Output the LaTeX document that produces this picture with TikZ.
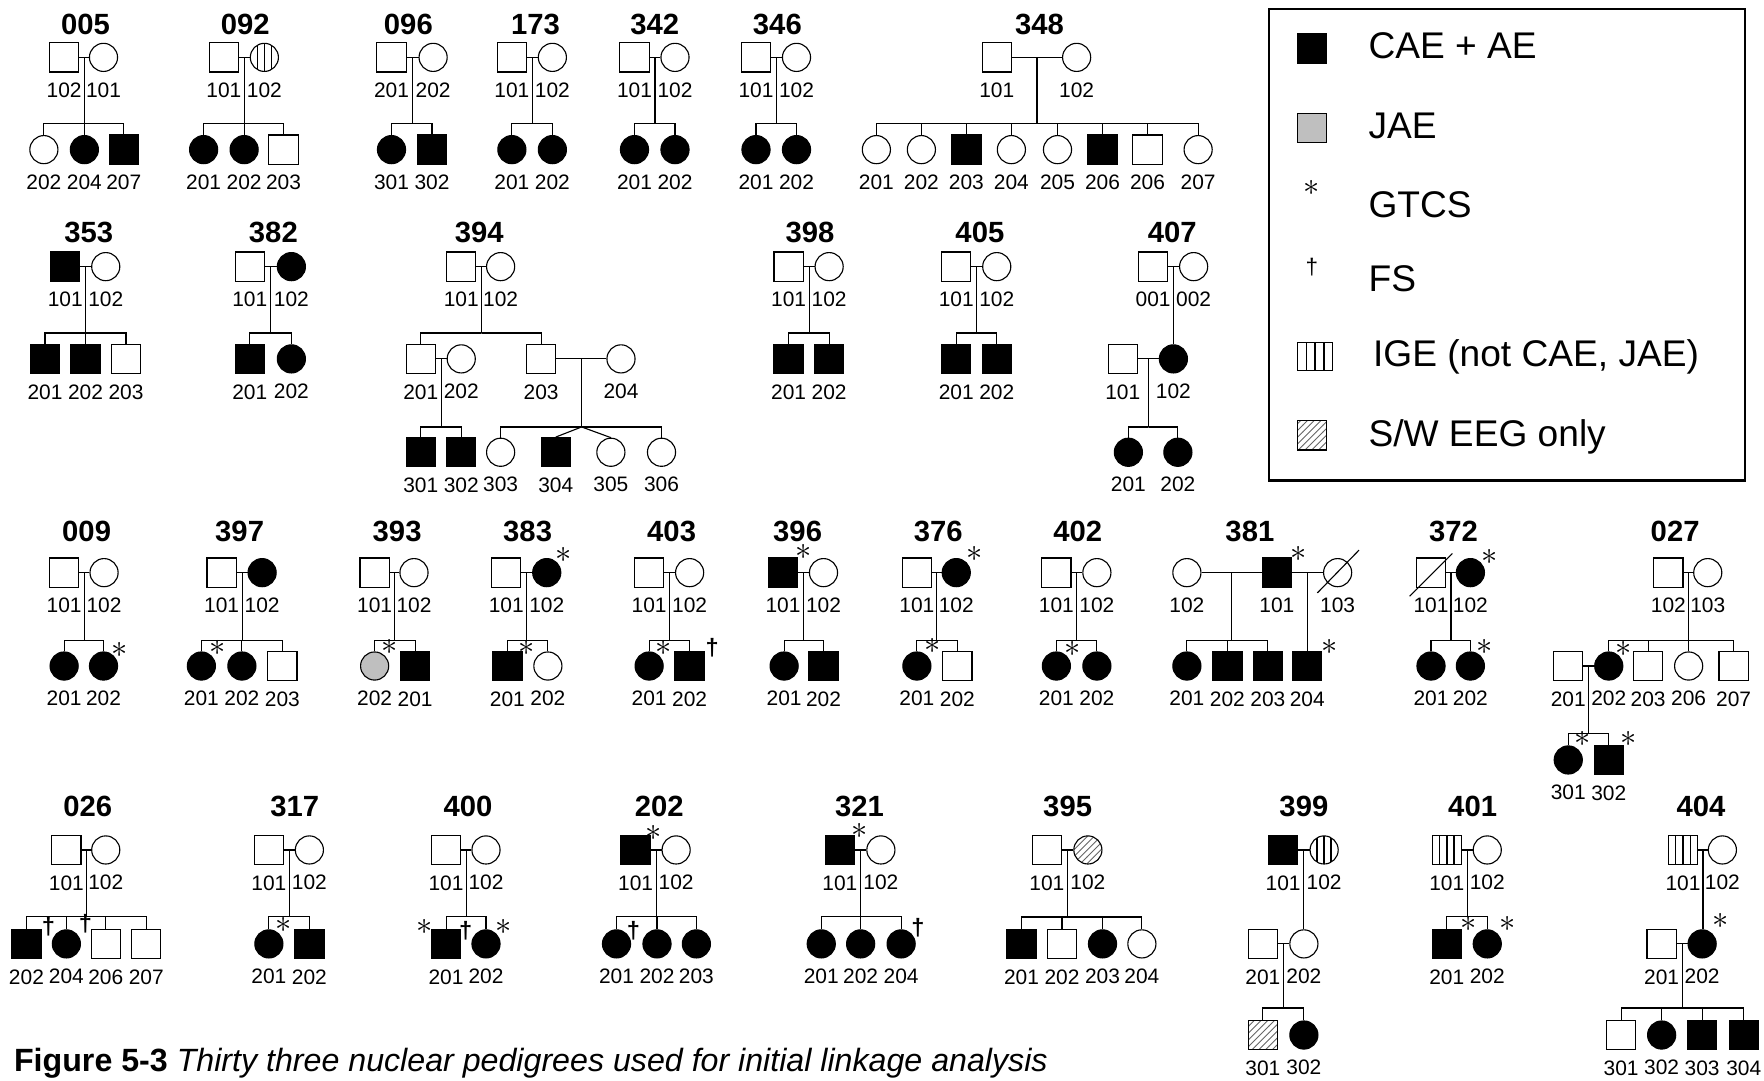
\documentclass[tikz,border=0pt]{standalone}
\usepackage{fontspec}
\setmainfont{Liberation Sans}
\usetikzlibrary{positioning,calc,patterns}

\begin{document}
\begin{tikzpicture}[
  x=0.5pt, y=-0.5pt, line width=0.5pt,
  ind/.style={draw, line width=0.5pt, inner sep=0pt},
  male/.style={ind, rectangle, minimum size=13pt},
  female/.style={ind, circle, minimum size=12.5pt},
  aff/.style={fill=black},
  jae/.style={fill=black!25},
  ige/.style={path picture={
    \foreach \xx in {0.25,0.5,0.75}
      \draw[line width=0.7pt]
        ($(path picture bounding box.north west)!\xx!(path picture bounding box.north east)$) --
        ($(path picture bounding box.south west)!\xx!(path picture bounding box.south east)$);}},
  eeg/.style={pattern=north east lines, pattern color=black!60},
  fam/.style={font=\fontsize{13}{13}\selectfont\bfseries, inner sep=0pt},
  gtcs/.style={font=\fontsize{14}{14}\selectfont, inner sep=0pt},
  fs/.style={font=\fontsize{10.5}{10.5}\selectfont\bfseries, inner sep=0pt},
  legtext/.style={font=\fontsize{16.5}{16.5}\selectfont, anchor=base west, inner sep=0pt},
  every label/.style={font=\fontsize{9.3}{9.3}\selectfont, inner sep=0pt},
  label distance=4.4pt
]
\useasboundingbox (0,0) rectangle (1568,960);

% ---------------- row 1 ----------------
% 005
\node[fam] (t005) at (76,22) {005};
\node[male, label=below:102] (d005) at (57,51) {};
\node[female, label=below:101] (m005) at (92,51) {};
\node[female, label=below:202] (c005-1) at (39,133) {};
\node[female, aff, label=below:204] (c005-2) at (75,133) {};
\node[male, aff, label=below:207] (c005-3) at (110,133) {};
\coordinate (s005) at (75,110);
\draw (d005) -- coordinate (j005) (m005);
\draw (j005) |- (s005) -| (c005-1) (s005) -| (c005-2) (s005) -| (c005-3);

% 092
\node[fam] (t092) at (218,22) {092};
\node[male, label=below:101] (d092) at (199,51) {};
\node[female, ige, label=below:102] (m092) at (235,51) {};
\node[female, aff, label=below:201] (c092-1) at (181,133) {};
\node[female, aff, label=below:202] (c092-2) at (217,133) {};
\node[male, label=below:203] (c092-3) at (252,133) {};
\coordinate (s092) at (217,110);
\draw (d092) -- coordinate (j092) (m092);
\draw (j092) |- (s092) -| (c092-1) (s092) -| (c092-2) (s092) -| (c092-3);

% 096
\node[fam] (t096) at (363,22) {096};
\node[male, label=below:201] (d096) at (348,51) {};
\node[female, label=below:202] (m096) at (385,51) {};
\node[female, aff, label=below:301] (c096-1) at (348,133) {};
\node[male, aff, label=below:302] (c096-2) at (384,133) {};
\coordinate (s096) at (366,110);
\draw (d096) -- coordinate (j096) (m096);
\draw (j096) |- (s096) -| (c096-1) (s096) -| (c096-2);

% 173
\node[fam] (t173) at (476,22) {173};
\node[male, label=below:101] (d173) at (455,51) {};
\node[female, label=below:102] (m173) at (491,51) {};
\node[female, aff, label=below:201] (c173-1) at (455,133) {};
\node[female, aff, label=below:202] (c173-2) at (491,133) {};
\coordinate (s173) at (473,110);
\draw (d173) -- coordinate (j173) (m173);
\draw (j173) |- (s173) -| (c173-1) (s173) -| (c173-2);

% 342
\node[fam] (t342) at (582,22) {342};
\node[male, label=below:101] (d342) at (564,51) {};
\node[female, label=below:102] (m342) at (600,51) {};
\node[female, aff, label=below:201] (c342-1) at (564,133) {};
\node[female, aff, label=below:202] (c342-2) at (600,133) {};
\coordinate (s342) at (582,110);
\draw (d342) -- coordinate (j342) (m342);
\draw (j342) |- (s342) -| (c342-1) (s342) -| (c342-2);

% 346
\node[fam] (t346) at (691,22) {346};
\node[male, label=below:101] (d346) at (672,51) {};
\node[female, label=below:102] (m346) at (708,51) {};
\node[female, aff, label=below:201] (c346-1) at (672,133) {};
\node[female, aff, label=below:202] (c346-2) at (708,133) {};
\coordinate (s346) at (690,110);
\draw (d346) -- coordinate (j346) (m346);
\draw (j346) |- (s346) -| (c346-1) (s346) -| (c346-2);

% 348
\node[fam] (t348) at (924,22) {348};
\node[male, label=below:101] (d348) at (886,51) {};
\node[female, label=below:102] (m348) at (957,51) {};
\node[female, label=below:201] (c348-1) at (779,133) {};
\node[female, label=below:202] (c348-2) at (819,133) {};
\node[male, aff, label=below:203] (c348-3) at (859,133) {};
\node[female, label=below:204] (c348-4) at (899,133) {};
\node[female, label=below:205] (c348-5) at (940,133) {};
\node[male, aff, label=below:206] (c348-6) at (980,133) {};
\node[male, label=below:206] (c348-7) at (1020,133) {};
\node[female, label=below:207] (c348-8) at (1065,133) {};
\coordinate (s348) at (922,110);
\draw (d348) -- coordinate (j348) (m348);
\draw (j348) |- (s348);
\foreach \k in {1,...,8} \draw (s348) -| (c348-\k);

% legend
\node[draw, line width=1pt, inner sep=0pt, minimum width=211.5pt, minimum height=209.5pt] (legend) at (1339.5,217.5) {};
\node[male, aff] (kcae) at (1166,43) {};
\node[legtext] (lcae) at (1216,52) {CAE + AE};
\node[male, jae] (kjae) at (1166,114) {};
\node[legtext] (ljae) at (1216,123) {JAE};
\node[gtcs] (kgtcs) at (1166,167) {$\ast$};
\node[legtext] (lgtcs) at (1216,193) {GTCS};
\node[fs, font=\fontsize{10}{10}\selectfont] (kfs) at (1166,237) {\textdagger};
\node[legtext] (lfs) at (1216,259) {FS};
\node[male, ige, minimum width=15.5pt, minimum height=12.5pt] (kige) at (1169,317) {};
\node[legtext] (lige) at (1220,326) {IGE (not CAE, JAE)};
\node[male, eeg] (keeg) at (1166,387) {};
\node[legtext] (leeg) at (1216,397) {S/W EEG only};

% ---------------- row 2 ----------------
% 353
\node[fam] (t353) at (79,207) {353};
\node[male, aff, label=below:101] (d353) at (58,237) {};
\node[female, label=below:102] (m353) at (94,237) {};
\node[male, aff, label=below:201] (c353-1) at (40,319) {};
\node[male, aff, label=below:202] (c353-2) at (76,319) {};
\node[male, label=below:203] (c353-3) at (112,319) {};
\coordinate (s353) at (76,296);
\draw (d353) -- coordinate (j353) (m353);
\draw (j353) |- (s353) -| (c353-1) (s353) -| (c353-2) (s353) -| (c353-3);

% 382
\node[fam] (t382) at (243,207) {382};
\node[male, label=below:101] (d382) at (222,237) {};
\node[female, aff, label=below:102] (m382) at (259,237) {};
\node[male, aff, label=below:201] (c382-1) at (222,319) {};
\node[female, aff, label=below:202] (c382-2) at (259,319) {};
\coordinate (s382) at (241,296);
\draw (d382) -- coordinate (j382) (m382);
\draw (j382) |- (s382) -| (c382-1) (s382) -| (c382-2);

% 394
\node[fam] (t394) at (426,207) {394};
\node[male, label=below:101] (d394) at (410,237) {};
\node[female, label=below:102] (m394) at (445,237) {};
\node[male, label=below:201] (g394-1) at (374,319) {};
\node[female, label=below:202] (g394-2) at (410,319) {};
\node[male, label=below:203] (g394-3) at (481,319) {};
\node[female, label=below:204] (g394-4) at (552,319) {};
\node[male, aff, label=below:301] (h394-1) at (374,402) {};
\node[male, aff, label=below:302] (h394-2) at (410,402) {};
\node[female, label=below:303] (h394-3) at (445,402) {};
\node[male, aff, label=below:304] (h394-4) at (494,402) {};
\node[female, label=below:305] (h394-5) at (543,402) {};
\node[female, label=below:306] (h394-6) at (588,402) {};
\coordinate (s394) at (428,296);
\coordinate (u394) at (392,379.5);
\coordinate (v394) at (517,379.5);
\draw (d394) -- coordinate (j394) (m394);
\draw (j394) |- (s394) -| (g394-1) (s394) -| (g394-3);
\draw (g394-1) -- coordinate (k394) (g394-2);
\draw (k394) |- (u394) -| (h394-1) (u394) -| (h394-2);
\draw (g394-3) -- coordinate (l394) (g394-4);
\draw (l394) |- (v394) -| (h394-3) (v394) -| (h394-6);
\draw (v394) -- (h394-4.north) (v394) -- (h394-5.north);

% 398
\node[fam] (t398) at (720,207) {398};
\node[male, label=below:101] (d398) at (701,237) {};
\node[female, label=below:102] (m398) at (737,237) {};
\node[male, aff, label=below:201] (c398-1) at (701,319) {};
\node[male, aff, label=below:202] (c398-2) at (737,319) {};
\coordinate (s398) at (719,296);
\draw (d398) -- coordinate (j398) (m398);
\draw (j398) |- (s398) -| (c398-1) (s398) -| (c398-2);

% 405
\node[fam] (t405) at (871,207) {405};
\node[male, label=below:101] (d405) at (850,237) {};
\node[female, label=below:102] (m405) at (886,237) {};
\node[male, aff, label=below:201] (c405-1) at (850,319) {};
\node[male, aff, label=below:202] (c405-2) at (886,319) {};
\coordinate (s405) at (868,296);
\draw (d405) -- coordinate (j405) (m405);
\draw (j405) |- (s405) -| (c405-1) (s405) -| (c405-2);

% 407
\node[fam] (t407) at (1042,207) {407};
\node[male, label=below:001] (d407) at (1025,237) {};
\node[female, label=below:002] (m407) at (1061,237) {};
\node[male, label=below:101] (g407-1) at (998,319) {};
\node[female, aff, label=below:102] (g407-2) at (1043,319) {};
\node[female, aff, label=below:201] (h407-1) at (1003,402) {};
\node[female, aff, label=below:202] (h407-2) at (1047,402) {};
\coordinate (u407) at (1021,379.5);
\draw (d407) -- coordinate (j407) (m407);
\draw (j407) -- (j407 |- g407-2.north);
\draw (g407-1) -- coordinate (k407) (g407-2);
\draw (k407) |- (u407) -| (h407-1) (u407) -| (h407-2);

% ---------------- row 3 ----------------
% 009
\node[fam] (t009) at (77,472.5) {009};
\node[male, label=below:101] (d009) at (57,509) {};
\node[female, label=below:102] (m009) at (92.5,509) {};
\node[female, aff, label=below:201] (c009-1) at (57,592) {};
\node[female, aff, label=below:202] (c009-2) at (92,592) {};
\node[gtcs] (a009) at (106,578) {$\ast$};
\coordinate (s009) at (74,569);
\draw (d009) -- coordinate (j009) (m009);
\draw (j009) |- (s009) -| (c009-1) (s009) -| (c009-2);

% 397
\node[fam] (t397) at (213,472.5) {397};
\node[male, label=below:101] (d397) at (197,509) {};
\node[female, aff, label=below:102] (m397) at (233,509) {};
\node[female, aff, label=below:201] (c397-1) at (179,592) {};
\node[female, aff, label=below:202] (c397-2) at (215,592) {};
\node[male, label=below:203] (c397-3) at (251,592) {};
\node[gtcs] (a397) at (193,576) {$\ast$};
\coordinate (s397) at (215,569);
\draw (d397) -- coordinate (j397) (m397);
\draw (j397) |- (s397) -| (c397-1) (s397) -| (c397-2) (s397) -| (c397-3);

% 393
\node[fam] (t393) at (353,472.5) {393};
\node[male, label=below:101] (d393) at (333,509) {};
\node[female, label=below:102] (m393) at (368,509) {};
\node[female, jae, label=below:202] (c393-1) at (333,592) {};
\node[male, aff, label=below:201] (c393-2) at (369,592) {};
\node[gtcs] (a393) at (346,575) {$\ast$};
\coordinate (s393) at (351,569);
\draw (d393) -- coordinate (j393) (m393);
\draw (j393) |- (s393) -| (c393-1) (s393) -| (c393-2);

% 383
\node[fam] (t383) at (469,472.5) {383};
\node[male, label=below:101] (d383) at (450,509) {};
\node[female, aff, label=below:102] (m383) at (486,509) {};
\node[gtcs] (b383) at (501,493) {$\ast$};
\node[male, aff, label=below:201] (c383-1) at (451,592) {};
\node[female, label=below:202] (c383-2) at (487,592) {};
\node[gtcs] (a383) at (468,576) {$\ast$};
\coordinate (s383) at (468,569);
\draw (d383) -- coordinate (j383) (m383);
\draw (j383) |- (s383) -| (c383-1) (s383) -| (c383-2);

% 403
\node[fam] (t403) at (597,472.5) {403};
\node[male, label=below:101] (d403) at (577,509) {};
\node[female, label=below:102] (m403) at (613,509) {};
\node[female, aff, label=below:201] (c403-1) at (577,592) {};
\node[male, aff, label=below:202] (c403-2) at (613,592) {};
\node[gtcs] (a403) at (590,576) {$\ast$};
\node[fs] (x403) at (633,576) {\textdagger};
\coordinate (s403) at (595,569);
\draw (d403) -- coordinate (j403) (m403);
\draw (j403) |- (s403) -| (c403-1) (s403) -| (c403-2);

% 396
\node[fam] (t396) at (709,472.5) {396};
\node[male, aff, label=below:101] (d396) at (696,509) {};
\node[female, label=below:102] (m396) at (732,509) {};
\node[gtcs] (b396) at (714,491) {$\ast$};
\node[female, aff, label=below:201] (c396-1) at (697,592) {};
\node[male, aff, label=below:202] (c396-2) at (732,592) {};
\coordinate (s396) at (714,569);
\draw (d396) -- coordinate (j396) (m396);
\draw (j396) |- (s396) -| (c396-1) (s396) -| (c396-2);

% 376
\node[fam] (t376) at (834,472.5) {376};
\node[male, label=below:101] (d376) at (815,509) {};
\node[female, aff, label=below:102] (m376) at (850,509) {};
\node[gtcs] (b376) at (866,492) {$\ast$};
\node[female, aff, label=below:201] (c376-1) at (815,592) {};
\node[male, label=below:202] (c376-2) at (851,592) {};
\node[gtcs] (a376) at (829,574) {$\ast$};
\coordinate (s376) at (832,569);
\draw (d376) -- coordinate (j376) (m376);
\draw (j376) |- (s376) -| (c376-1) (s376) -| (c376-2);

% 402
\node[fam] (t402) at (958,472.5) {402};
\node[male, label=below:101] (d402) at (939,509) {};
\node[female, label=below:102] (m402) at (975,509) {};
\node[female, aff, label=below:201] (c402-1) at (939,592) {};
\node[female, aff, label=below:202] (c402-2) at (975,592) {};
\node[gtcs] (a402) at (953,577) {$\ast$};
\coordinate (s402) at (957,569);
\draw (d402) -- coordinate (j402) (m402);
\draw (j402) |- (s402) -| (c402-1) (s402) -| (c402-2);

% 381
\node[fam] (t381) at (1111,472.5) {381};
\node[female, label=below:102] (w381) at (1055,509) {};
\node[male, aff, label=below:101] (d381) at (1135,509) {};
\node[female, label=below:103] (m381) at (1189,509) {};
\node[gtcs] (b381) at (1154,492) {$\ast$};
\node[female, aff, label=below:201] (c381-1) at (1055,592) {};
\node[male, aff, label=below:202] (c381-2) at (1091,592) {};
\node[male, aff, label=below:203] (c381-3) at (1127,592) {};
\node[male, aff, label=below:204] (c381-4) at (1162,592) {};
\node[gtcs] (a381) at (1182,575) {$\ast$};
\coordinate (s381) at (1095,569);
\draw ([shift={(-18,18)}]m381.center) -- ([shift={(19,-20)}]m381.center);
\draw (w381) -- coordinate (j381) (d381);
\draw (d381) -- coordinate (k381) (m381);
\draw (j381) |- (s381) -| (c381-1) (s381) -| (c381-2) (s381) -| (c381-3);
\draw (k381) -- (k381 |- c381-4.north);

% 372
\node[fam] (t372) at (1292,472.5) {372};
\node[male, label=below:101] (d372) at (1272,509) {};
\node[female, aff, label=below:102] (m372) at (1307,509) {};
\node[gtcs] (b372) at (1324,495) {$\ast$};
\node[female, aff, label=below:201] (c372-1) at (1272,592) {};
\node[female, aff, label=below:202] (c372-2) at (1307,592) {};
\node[gtcs] (a372) at (1320,575) {$\ast$};
\coordinate (s372) at (1289.5,569);
\draw ([shift={(-19,21)}]d372.center) -- ([shift={(19,-17)}]d372.center);
\draw (d372) -- coordinate (j372) (m372);
\draw (j372) |- (s372) -| (c372-1) (s372) -| (c372-2);

% 027
\node[fam] (t027) at (1489,472.5) {027};
\node[male, label=below:102] (d027) at (1483,509) {};
\node[female, label=below:103] (m027) at (1518,509) {};
\node[male, label=below:201] (g027-1) at (1394,592) {};
\node[female, aff, label=below:202] (g027-2) at (1430,592) {};
\node[male, label=below:203] (g027-3) at (1465,592) {};
\node[female, label=below:206] (g027-4) at (1501,592) {};
\node[male, label=below:207] (g027-5) at (1541,592) {};
\node[gtcs] (a027) at (1443,577) {$\ast$};
\node[female, aff, label=below:301] (h027-1) at (1394,675.5) {};
\node[male, aff, label=below:302] (h027-2) at (1430,675.5) {};
\node[gtcs] (b027) at (1407,657) {$\ast$};
\node[gtcs] (e027) at (1447.5,657) {$\ast$};
\coordinate (s027) at (1501,569);
\coordinate (u027) at (1412,652);
\draw (d027) -- coordinate (j027) (m027);
\draw (j027) |- (s027) -| (g027-2) (s027) -| (g027-3) (s027) -| (g027-4) (s027) -| (g027-5);
\draw (g027-1) -- coordinate (k027) (g027-2);
\draw (k027) |- (u027) -| (h027-1) (u027) -| (h027-2);

% ---------------- row 4 ----------------
% 026
\node[fam] (t026) at (78,717) {026};
\node[male, label=below:101] (d026) at (59,755.5) {};
\node[female, label=below:102] (m026) at (94,755.5) {};
\node[male, aff, label=below:202] (c026-1) at (23.5,839) {};
\node[female, aff, label=below:204] (c026-2) at (59,839) {};
\node[male, label=below:206] (c026-3) at (94,839) {};
\node[male, label=below:207] (c026-4) at (130,839) {};
\node[fs] (x026) at (43,824) {\textdagger};
\node[fs] (y026) at (76,821) {\textdagger};
\coordinate (s026) at (76.5,815);
\draw (d026) -- coordinate (j026) (m026);
\draw (j026) |- (s026) -| (c026-1) (s026) -| (c026-2) (s026) -| (c026-3) (s026) -| (c026-4);

% 317
\node[fam] (t317) at (262,717) {317};
\node[male, label=below:101] (d317) at (239,755.5) {};
\node[female, label=below:102] (m317) at (275,755.5) {};
\node[female, aff, label=below:201] (c317-1) at (239,839) {};
\node[male, aff, label=below:202] (c317-2) at (275,839) {};
\node[gtcs] (a317) at (252,822) {$\ast$};
\coordinate (s317) at (257,815);
\draw (d317) -- coordinate (j317) (m317);
\draw (j317) |- (s317) -| (c317-1) (s317) -| (c317-2);

% 400
\node[fam] (t400) at (416,717) {400};
\node[male, label=below:101] (d400) at (396.5,755.5) {};
\node[female, label=below:102] (m400) at (432,755.5) {};
\node[male, aff, label=below:201] (c400-1) at (396.5,839) {};
\node[female, aff, label=below:202] (c400-2) at (432,839) {};
\node[gtcs] (a400) at (377,824) {$\ast$};
\node[gtcs] (b400) at (447.5,824) {$\ast$};
\node[fs] (x400) at (414,827) {\textdagger};
\coordinate (s400) at (414,815);
\draw (d400) -- coordinate (j400) (m400);
\draw (j400) |- (s400) -| (c400-1) (s400) -| (c400-2);

% 202
\node[fam] (t202) at (586,717) {202};
\node[male, aff, label=below:101] (d202) at (565,755.5) {};
\node[female, label=below:102] (m202) at (601,755.5) {};
\node[gtcs] (b202) at (581,740) {$\ast$};
\node[female, aff, label=below:201] (c202-1) at (548,839) {};
\node[female, aff, label=below:202] (c202-2) at (584,839) {};
\node[female, aff, label=below:203] (c202-3) at (619,839) {};
\node[fs] (x202) at (563,827) {\textdagger};
\coordinate (s202) at (583,815);
\draw (d202) -- coordinate (j202) (m202);
\draw (j202) |- (s202) -| (c202-1) (s202) -| (c202-2) (s202) -| (c202-3);

% 321
\node[fam] (t321) at (764,717) {321};
\node[male, aff, label=below:101] (d321) at (746.5,755.5) {};
\node[female, label=below:102] (m321) at (783,755.5) {};
\node[gtcs] (b321) at (764,739) {$\ast$};
\node[female, aff, label=below:201] (c321-1) at (730,839) {};
\node[female, aff, label=below:202] (c321-2) at (765,839) {};
\node[female, aff, label=below:204] (c321-3) at (801,839) {};
\node[fs] (x321) at (816,825) {\textdagger};
\coordinate (s321) at (765,815);
\draw (d321) -- coordinate (j321) (m321);
\draw (j321) |- (s321) -| (c321-1) (s321) -| (c321-2) (s321) -| (c321-3);

% 395
\node[fam] (t395) at (949,717) {395};
\node[male, label=below:101] (d395) at (930.5,755.5) {};
\node[female, eeg, label=below:102] (m395) at (967,755.5) {};
\node[male, aff, label=below:201] (c395-1) at (908,839) {};
\node[male, label=below:202] (c395-2) at (944,839) {};
\node[female, aff, label=below:203] (c395-3) at (980,839) {};
\node[female, label=below:204] (c395-4) at (1015,839) {};
\coordinate (s395) at (949,815);
\draw (d395) -- coordinate (j395) (m395);
\draw (j395) -- (s395);
\draw (s395) -| (c395-2) (s395) -| (c395-3);
\draw[line width=1.2pt] (c395-1 |- s395) -- (c395-4 |- s395);
\draw (s395) -| (c395-1) (s395) -| (c395-4);

% 399
\node[fam] (t399) at (1159,717) {399};
\node[male, aff, label=below:101] (d399) at (1140.5,755.5) {};
\node[female, ige, label=below:102] (m399) at (1177,755.5) {};
\node[male, label=below:201] (g399-1) at (1122.5,839) {};
\node[female, label=below:202] (g399-2) at (1159,839) {};
\node[male, eeg, label=below:301] (h399-1) at (1122.5,920) {};
\node[female, aff, label=below:302] (h399-2) at (1159,920) {};
\coordinate (u399) at (1141,896);
\draw (d399) -- coordinate (j399) (m399);
\draw (j399) -- (j399 |- g399-2.north);
\draw (g399-1) -- coordinate (k399) (g399-2);
\draw (k399) |- (u399) -| (h399-1) (u399) -| (h399-2);

% 401
\node[fam] (t401) at (1309,717) {401};
\node[male, ige, label=below:101] (d401) at (1286,755.5) {};
\node[female, label=below:102] (m401) at (1322,755.5) {};
\node[male, aff, label=below:201] (c401-1) at (1286,839) {};
\node[female, aff, label=below:202] (c401-2) at (1322,839) {};
\node[gtcs] (a401) at (1305.5,821) {$\ast$};
\node[gtcs] (b401) at (1340,821) {$\ast$};
\coordinate (s401) at (1304,815);
\draw (d401) -- coordinate (j401) (m401);
\draw (j401) |- (s401) -| (c401-1) (s401) -| (c401-2);

% 404
\node[fam] (t404) at (1512,717) {404};
\node[male, ige, label=below:101] (d404) at (1496,755.5) {};
\node[female, label=below:102] (m404) at (1531,755.5) {};
\node[male, label=below:201] (g404-1) at (1477,839) {};
\node[female, aff, label=below:202] (g404-2) at (1513,839) {};
\node[gtcs] (a404) at (1529,819) {$\ast$};
\node[male, label=below:301] (h404-1) at (1441,920) {};
\node[female, aff, label=below:302] (h404-2) at (1477,920) {};
\node[male, aff, label=below:303] (h404-3) at (1513,920) {};
\node[male, aff, label=below:304] (h404-4) at (1550,920) {};
\coordinate (u404) at (1495,896);
\draw (d404) -- coordinate (j404) (m404);
\draw (j404) -- (j404 |- g404-2.north);
\draw (g404-1) -- coordinate (k404) (g404-2);
\draw (k404) |- (u404) -| (h404-1) (u404) -| (h404-2) (u404) -| (h404-3) (u404) -| (h404-4);

% caption
\node[anchor=base west, inner sep=0pt, font=\fontsize{14.3}{14.3}\selectfont] (cap) at (12,952)
  {\textbf{Figure 5-3} \textit{Thirty three nuclear pedigrees used for initial linkage analysis}};
\end{tikzpicture}
\end{document}
